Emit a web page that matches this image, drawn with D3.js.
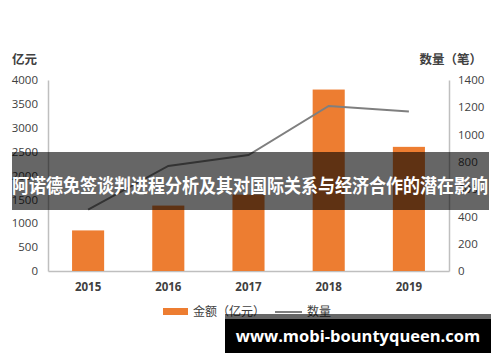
<!DOCTYPE html>
<html>
<head>
<meta charset="utf-8">
<script src="https://cdn.jsdelivr.net/npm/d3@7"></script>
<style>
  body { margin: 0; background: #fff; }
  svg { display: block; font-family: "Open Sans", "Noto Sans CJK SC", sans-serif; }
</style>
</head>
<body>
<div class="chart"></div>
<script>
// data
const years = ["2015", "2016", "2017", "2018", "2019"];
const amount = [850, 1370, 1600, 3800, 2600];   // 金额（亿元）
const count = [450, 770, 850, 1210, 1170];      // 数量（笔）
const leftTicks = [0, 500, 1000, 1500, 2000, 2500, 3000, 3500, 4000];
const rightTicks = [0, 200, 400, 600, 800, 1000, 1200, 1400];

const title = "阿诺德免签谈判进程分析及其对国际关系与经济合作的潜在影响";
const site = "www.mobi-bountyqueen.com";

(function(d3) {
  const W = 500, H = 362;
  const left = 48, right = 449, top = 80, bottom = 271;

  const svg = d3.select(".chart").append("svg")
    .attr("width", W).attr("height", H);

  const x = d3.scaleBand().domain(years).range([left, right]).paddingInner(0.6).paddingOuter(0.3);
  const yL = d3.scaleLinear().domain([0, 4000]).range([bottom, top]);
  const yR = d3.scaleLinear().domain([0, 1400]).range([bottom, top]);

  // axes
  const axL = svg.append("g").attr("transform", `translate(${left},0)`)
    .call(d3.axisLeft(yL).tickValues(leftTicks).tickFormat(d3.format("d")).tickSize(0).tickPadding(10));
  const axR = svg.append("g").attr("transform", `translate(${right},0)`)
    .call(d3.axisRight(yR).tickValues(rightTicks).tickFormat(d3.format("d")).tickSize(0).tickPadding(9));
  const axB = svg.append("g").attr("transform", `translate(0,${bottom})`)
    .call(d3.axisBottom(x).tickSize(0).tickPadding(12));

  [axL, axR, axB].forEach(g => {
    g.select(".domain").attr("stroke", "#bfbfbf").attr("stroke-width", 1.5);
    g.selectAll("text").attr("font-size", 11.5).attr("fill", "#404040")
      .attr("font-family", "Open Sans, sans-serif");
  });
  axB.selectAll("text").attr("font-weight", "bold");

  // bars
  svg.append("g").selectAll("rect")
    .data(amount)
    .enter()
    .append("rect")
    .attr("x", (d, i) => x(years[i]))
    .attr("y", d => yL(d))
    .attr("width", x.bandwidth())
    .attr("height", d => bottom - yL(d))
    .attr("fill", "#ED7D31");

  // line
  const line = d3.line()
    .x((d, i) => x(years[i]) + x.bandwidth() / 2)
    .y(d => yR(d));
  svg.append("path")
    .datum(count)
    .attr("d", line)
    .attr("fill", "none")
    .attr("stroke", "#7f7f7f")
    .attr("stroke-width", 2);

  // axis titles
  svg.append("text").attr("x", 12).attr("y", 64)
    .attr("font-size", 12.5).attr("font-weight", "bold").attr("fill", "#404040")
    .attr("font-family", "Noto Sans CJK SC")
    .text("亿元");
  svg.append("text").attr("x", 482).attr("y", 64).attr("text-anchor", "end")
    .attr("font-size", 12.5).attr("font-weight", "bold").attr("fill", "#404040")
    .attr("font-family", "Noto Sans CJK SC")
    .text("数量（笔）");

  // legend
  const lg = svg.append("g").attr("font-family", "Noto Sans CJK SC").attr("font-size", 12).attr("fill", "#404040");
  lg.append("rect").attr("x", 163).attr("y", 308).attr("width", 25).attr("height", 7).attr("fill", "#ED7D31");
  lg.append("text").attr("x", 193).attr("y", 316).text("金额（亿元）");
  lg.append("line").attr("x1", 275).attr("x2", 302).attr("y1", 312).attr("y2", 312)
    .attr("stroke", "#7f7f7f").attr("stroke-width", 2);
  lg.append("text").attr("x", 307).attr("y", 316).text("数量");

  // title band over chart
  svg.append("rect").attr("x", 12).attr("y", 152).attr("width", 477).attr("height", 58)
    .attr("fill", "#000").attr("opacity", 0.6);
  svg.append("text").attr("x", 12).attr("y", 193)
    .attr("font-family", "Noto Sans CJK SC").attr("font-weight", "bold")
    .attr("font-size", 19).attr("fill", "#fff")
    .attr("textLength", 476).attr("lengthAdjust", "spacingAndGlyphs")
    .text(title);

  // site label
  svg.append("rect").attr("x", 225).attr("y", 314).attr("width", 266).attr("height", 5)
    .attr("fill", "#000").attr("opacity", 0.6);
  svg.append("rect").attr("x", 225).attr("y", 319).attr("width", 266).attr("height", 34)
    .attr("fill", "#000");
  svg.append("text").attr("x", 358).attr("y", 342).attr("text-anchor", "middle")
    .attr("font-family", "Open Sans, sans-serif").attr("font-weight", "bold")
    .attr("font-size", 16.5).attr("fill", "#fff")
    .text(site);
})(d3);
</script>
</body>
</html>
